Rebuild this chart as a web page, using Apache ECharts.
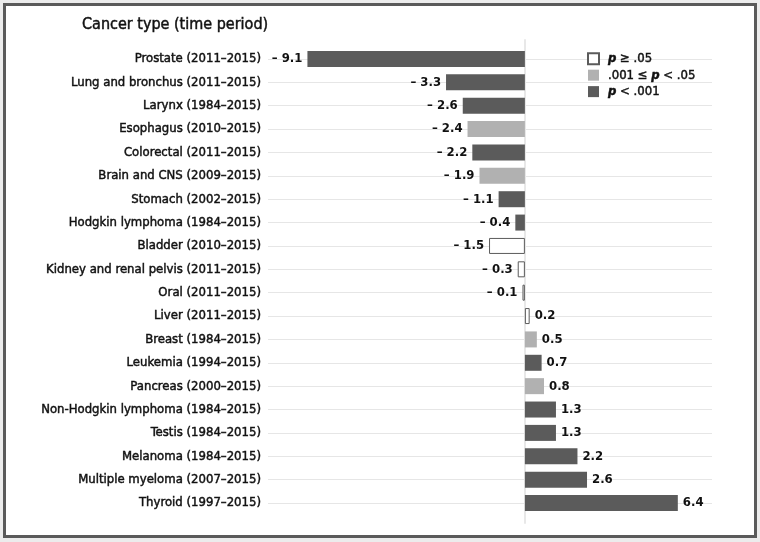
<!DOCTYPE html>
<html>
<head>
<meta charset="utf-8">
<script src="https://cdn.jsdelivr.net/npm/echarts@6/dist/echarts.min.js"></script>
<style>
  html, body { margin: 0; padding: 0; background: #ececec; }
  #frame { position: absolute; left: 3px; top: 3px; width: 754px; height: 535px; box-sizing: border-box; border: 3px solid #5a5a5a; background: #fff; }
  #chart { position: absolute; left: 0; top: 0; width: 760px; height: 542px; }
</style>
</head>
<body>
<div id="frame"></div>
<div id="chart"></div>
<script>
// ---- data ----
const categories = [
  'Prostate (2011–2015)', 'Lung and bronchus (2011–2015)', 'Larynx (1984–2015)',
  'Esophagus (2010–2015)', 'Colorectal (2011–2015)', 'Brain and CNS (2009–2015)',
  'Stomach (2002–2015)', 'Hodgkin lymphoma (1984–2015)', 'Bladder (2010–2015)',
  'Kidney and renal pelvis (2011–2015)', 'Oral (2011–2015)', 'Liver (2011–2015)',
  'Breast (1984–2015)', 'Leukemia (1994–2015)', 'Pancreas (2000–2015)',
  'Non-Hodgkin lymphoma (1984–2015)', 'Testis (1984–2015)', 'Melanoma (1984–2015)',
  'Multiple myeloma (2007–2015)', 'Thyroid (1997–2015)'
];
const values = [-9.1, -3.3, -2.6, -2.4, -2.2, -1.9, -1.1, -0.4, -1.5, -0.3, -0.1, 0.2, 0.5, 0.7, 0.8, 1.3, 1.3, 2.2, 2.6, 6.4];
// significance class: 0 = p ≥ .05, 1 = .001 ≤ p < .05, 2 = p < .001
const significance = [2, 2, 2, 1, 2, 1, 2, 2, 0, 0, 0, 0, 1, 2, 1, 2, 2, 2, 2, 2];
const classNames = ['p ≥ .05', '.001 ≤ p < .05', 'p < .001'];
const classColors = ['#ffffff', '#b1b1b1', '#5b5b5b'];

const FONT = '"Liberation Sans Narrow", "DejaVu Sans Condensed", sans-serif';
const INK = '#111';
const THICK = { textBorderColor: INK, textBorderWidth: 0.45 };

function fmt(v) {
  return v < 0 ? '– ' + Math.abs(v).toFixed(1) : v.toFixed(1);
}

const series = classNames.map((name, k) => ({
  name: name,
  type: 'bar',
  xAxisIndex: 0,
  yAxisIndex: 0,
  barWidth: 16,
  barGap: '-100%',
  clip: false,
  itemStyle: {
    color: classColors[k],
    borderColor: k === 0 ? '#5b5b5b' : classColors[k],
    borderWidth: k === 0 ? 1 : 0
  },
  label: {
    show: true,
    color: INK,
    fontFamily: FONT,
    fontSize: 13,
    fontWeight: 'bold',
    distance: 5,
    formatter: p => fmt(p.value)
  },
  data: values.map((v, i) => significance[i] === k
    ? { value: v, label: { position: v < 0 ? 'left' : 'right' } }
    : '-')
}));

const chart = echarts.init(document.getElementById('chart'));
chart.setOption({
  backgroundColor: 'transparent',
  animation: false,
  title: {
    text: 'Cancer type (time period)',
    left: 77, top: 12,
    textStyle: Object.assign({ fontFamily: FONT, fontSize: 16, fontWeight: 'normal', color: INK }, THICK)
  },
  legend: {
    orient: 'vertical',
    left: 587, top: 52, padding: 0,
    itemWidth: 11, itemHeight: 11, itemGap: 3,
    icon: 'rect',
    data: classNames,
    formatter: n => n.replace('p', '{i|p}'),
    textStyle: Object.assign({
      fontFamily: FONT, fontSize: 13, fontWeight: 'normal', color: INK, padding: [0, 0, 0, 4],
      rich: { i: { fontFamily: FONT, fontSize: 13, fontWeight: 'bold', fontStyle: 'italic', color: INK } }
    }, THICK)
  },
  grid: [
    { left: 268, right: 48, top: 59, height: 444 },
    { left: 268, right: 48, top: 40, height: 483 }
  ],
  xAxis: [
    { type: 'value', gridIndex: 0, min: -10.75, max: 7.83, show: false },
    { type: 'value', gridIndex: 1, min: -10.75, max: 7.83, show: false }
  ],
  yAxis: [
    {
      type: 'category', gridIndex: 0, data: categories, inverse: true, boundaryGap: false,
      axisLine: { show: false }, axisTick: { show: false },
      axisLabel: Object.assign({ margin: 7, color: INK, fontFamily: FONT, fontSize: 13, fontWeight: 'normal' }, THICK),
      splitLine: { show: true, lineStyle: { color: '#e6e6e6', width: 1 } }
    },
    {
      type: 'value', gridIndex: 1, min: 0, max: 1,
      axisLine: { show: true, onZero: true, lineStyle: { color: '#e8e8e8', width: 2 } },
      axisTick: { show: false }, axisLabel: { show: false }, splitLine: { show: false }
    }
  ],
  series: series
});
</script>
</body>
</html>
